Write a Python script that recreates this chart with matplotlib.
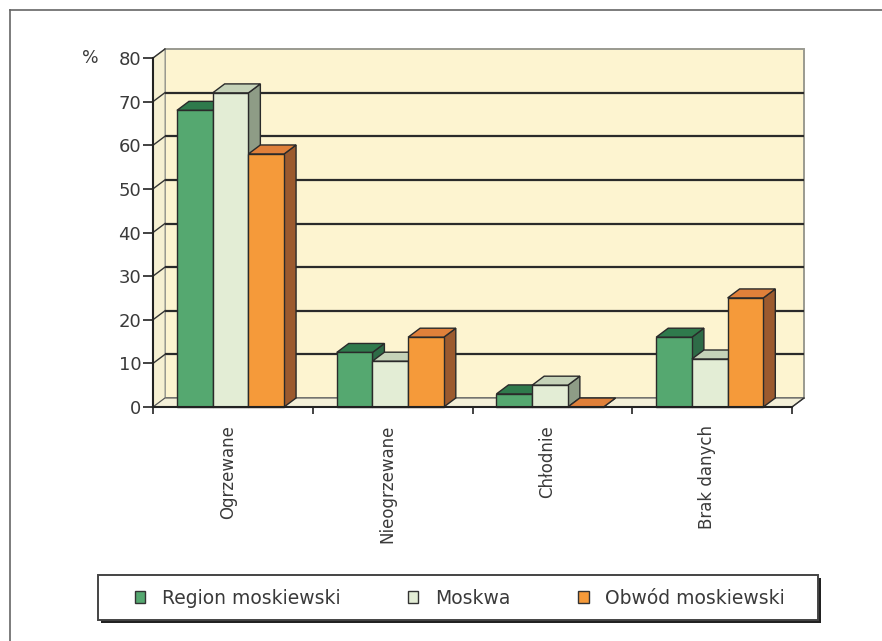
import matplotlib
matplotlib.use("Agg")
import matplotlib.pyplot as plt
from matplotlib.patches import Polygon, Patch, Rectangle
from matplotlib.lines import Line2D

plt.rcParams['font.family'] = ['DejaVu Sans']

categories = ["Ogrzewane", "Nieogrzewane", "Chłodnie", "Brak danych"]
series_names = ["Region moskiewski", "Moskwa", "Obwód moskiewski"]
region = [68, 12.5, 3, 16]
moskwa = [72, 10.5, 5, 11]
obwod = [58, 16, 0, 25]
yticks = [0, 10, 20, 30, 40, 50, 60, 70, 80]

values = [region, moskwa, obwod]
front_cols = ["#55A870", "#E3EDD5", "#F59A3A"]
top_cols = ["#2F7A4C", "#C5D2B8", "#E0803A"]
side_cols = ["#2E6B47", "#8E9C86", "#9C5A2E"]
edge = "#2a2a2a"
txt = "#3a3a3a"

W, H = 882, 641
fig = plt.figure(figsize=(W / 100, H / 100), dpi=100)
fig.patch.set_facecolor("white")

x0p, x1p, y0p, y1p = 153, 792, 407, 58
ax = fig.add_axes([x0p / W, 1 - y0p / H, (x1p - x0p) / W, (y0p - y1p) / H])
ax.set_xlim(0, 4)
ax.set_ylim(0, 80)
ax.patch.set_alpha(0)

# depth offsets in data units
DX = 12 / ((x1p - x0p) / 4)
DY = 9 / ((y0p - y1p) / 80)

# walls
back = Polygon([(DX, DY), (4 + DX, DY), (4 + DX, 80 + DY), (DX, 80 + DY)],
               closed=True, facecolor="#FDF4D0", edgecolor="#9a9a90", lw=1.4,
               zorder=0.5, clip_on=False)
ax.add_patch(back)
left = Polygon([(0, 0), (DX, DY), (DX, 80 + DY), (0, 80)], closed=True,
               facecolor="#F6F0D2", edgecolor="#9a9a90", lw=0.8, zorder=0.6, clip_on=False)
ax.add_patch(left)
floor = Polygon([(0, 0), (4, 0), (4 + DX, DY), (DX, DY)], closed=True,
                facecolor="#F3EFD8", edgecolor="#555555", lw=0.8, zorder=0.7, clip_on=False)
ax.add_patch(floor)

for v in yticks[1:-1]:
    ax.plot([DX, 4 + DX], [v + DY, v + DY], color="#2a2a2a", lw=1.6, zorder=0.8,
            clip_on=False, solid_capstyle="butt")
for v in yticks[1:]:
    ax.plot([0, DX], [v, v + DY], color="#333333", lw=1.0, zorder=0.8, clip_on=False)
ax.plot([4, 4 + DX], [0, DY], color="#333333", lw=1.0, zorder=0.8, clip_on=False)

bw = 35.7 / ((x1p - x0p) / 4)
start = 0.15
for j, vals in enumerate(values):
    lefts = [i + start + j * bw for i in range(len(categories))]
    zf = 3 + j * 0.2
    ax.bar(lefts, vals, width=bw, align="edge", color=front_cols[j],
           edgecolor=edge, linewidth=1.0, zorder=zf + 0.1, clip_on=False)
    for xl, v in zip(lefts, vals):
        top = Polygon([(xl, v), (xl + bw, v), (xl + bw + DX, v + DY), (xl + DX, v + DY)],
                      closed=True, facecolor=top_cols[j], edgecolor=edge, lw=1.0,
                      zorder=zf, clip_on=False)
        side = Polygon([(xl + bw, 0), (xl + bw + DX, DY), (xl + bw + DX, v + DY), (xl + bw, v)],
                       closed=True, facecolor=side_cols[j], edgecolor=edge, lw=1.0,
                       zorder=zf, clip_on=False)
        ax.add_patch(side)
        ax.add_patch(top)

for s in ["top", "right"]:
    ax.spines[s].set_visible(False)
for s in ["left", "bottom"]:
    ax.spines[s].set_color("#222222")
    ax.spines[s].set_linewidth(1.5)
    ax.spines[s].set_zorder(5)

ax.set_yticks(yticks)
ax.set_yticklabels([str(t) for t in yticks])
ax.tick_params(axis="y", length=7, width=1.2, color="#222222", pad=1.5,
               labelsize=13, labelcolor=txt)
ax.set_xticks([0, 1, 2, 3, 4])
ax.set_xticklabels([])
ax.tick_params(axis="x", which="major", length=5, width=1.2, color="#222222")
ax.set_xticks([i + 0.47 for i in range(4)], minor=True)
ax.set_xticklabels(categories, minor=True, rotation=90, va="top", ha="center")
ax.tick_params(axis="x", which="minor", length=0, pad=13, labelsize=12, labelcolor=txt)

fig.text(82 / W, 1 - 58 / H, "%", fontsize=12.5, color=txt, va="center", ha="left")

# outer frame (top and left visible)
fig.add_artist(Line2D([10 / W, 1.0], [1 - 10 / H, 1 - 10 / H], color="#666666", lw=1.2))
fig.add_artist(Line2D([10 / W, 10 / W], [0.0, 1 - 10 / H], color="#666666", lw=1.2))

# legend frame with shadow
lx0, lx1, ly0, ly1 = 98, 818, 575, 620
fig.add_artist(Rectangle(((lx0 + 3) / W, 1 - (ly1 + 3) / H), (lx1 - lx0) / W, (ly1 - ly0) / H,
                         transform=fig.transFigure, facecolor="#222222", edgecolor="none", zorder=1))
fig.add_artist(Rectangle((lx0 / W, 1 - ly1 / H), (lx1 - lx0) / W, (ly1 - ly0) / H,
                         transform=fig.transFigure, facecolor="white", edgecolor="#444444",
                         lw=1.4, zorder=2))

handles = [Patch(facecolor=c, edgecolor="#333333", lw=1.0) for c in front_cols]
leg = fig.legend(handles, series_names, loc="center",
                 bbox_to_anchor=(460 / W, 1 - 598 / H),
                 ncol=3, frameon=False, fontsize=13.5,
                 handlelength=0.55, handleheight=0.55,
                 handletextpad=0.9, columnspacing=3.6, borderpad=0.0)
leg.set_zorder(3)
for t in leg.get_texts():
    t.set_color(txt)

fig.savefig("out.png", dpi=100)
